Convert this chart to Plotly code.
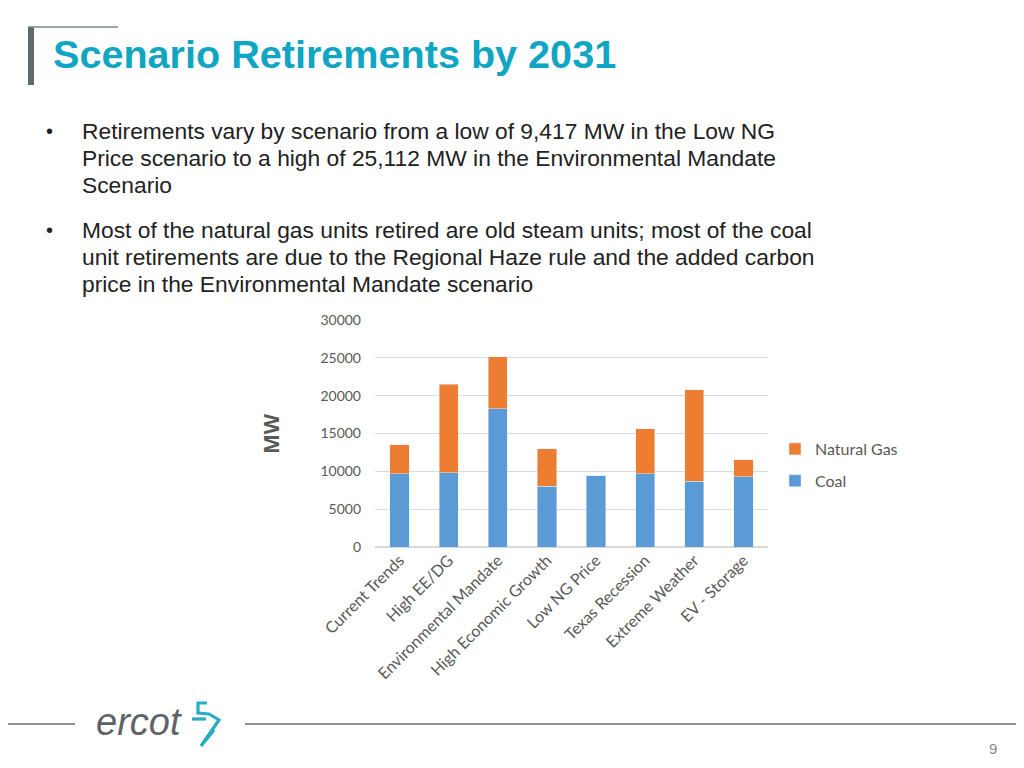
import plotly.graph_objects as go

W, H = 1024, 768

scenarios = ["Current Trends", "High EE/DG", "Environmental Mandate", "High Economic Growth",
             "Low NG Price", "Texas Recession", "Extreme Weather", "EV - Storage"]
coal_mw = [9700, 9800, 18300, 8000, 9417, 9700, 8700, 9300]
natural_gas_mw = [3800, 11700, 6812, 5000, 0, 5900, 12100, 2200]
y_ticks = [0, 5000, 10000, 15000, 20000, 25000, 30000]

title_text = "Scenario Retirements by 2031"
bullet_lines = [
    ("Retirements vary by scenario from a low of 9,417 MW in the Low NG", True),
    ("Price scenario to a high of 25,112 MW in the Environmental Mandate", False),
    ("Scenario", False),
    ("Most of the natural gas units retired are old steam units; most of the coal", True),
    ("unit retirements are due to the Regional Haze rule and the added carbon", False),
    ("price in the Environmental Mandate scenario", False),
]
bullet_y = [131, 158, 185, 230, 257, 284]


def px(x):
    return x / W


def py(y):
    return 1 - y / H


fig = go.Figure()
fig.add_trace(go.Bar(x=scenarios, y=coal_mw, name="Coal", marker_color="#5B9BD5",
                     legendgroup="coal", legendrank=2))
fig.add_trace(go.Bar(x=scenarios, y=natural_gas_mw, name="Natural Gas", marker_color="#ED7D31",
                     legendgroup="ng", legendrank=1))

annotations = []
annotations.append(dict(x=px(51), y=py(54), xref="paper", yref="paper", text="<b>" + title_text + "</b>",
                        showarrow=False, xanchor="left", yanchor="middle",
                        font=dict(family="Liberation Sans", size=39.6, color="#10A5C2")))
for (txt, has_bullet), yy in zip(bullet_lines, bullet_y):
    if has_bullet:
        annotations.append(dict(x=px(44), y=py(yy), xref="paper", yref="paper", text="•",
                                showarrow=False, xanchor="left", yanchor="middle",
                                font=dict(family="Liberation Sans", size=20, color="#222222")))
    annotations.append(dict(x=px(80), y=py(yy), xref="paper", yref="paper", text=txt,
                            showarrow=False, xanchor="left", yanchor="middle",
                            font=dict(family="Liberation Sans", size=22.8, color="#222222")))

annotations.append(dict(x=px(271), y=py(434), xref="paper", yref="paper", text="<b>MW</b>",
                        showarrow=False, textangle=-90, xanchor="center", yanchor="middle",
                        font=dict(family="Open Sans", size=21, color="#595959")))
annotations.append(dict(x=px(139), y=py(722), xref="paper", yref="paper", text="<i>ercot</i>",
                        showarrow=False, xanchor="center", yanchor="middle",
                        font=dict(family="Liberation Sans Narrow, Liberation Sans", size=38,
                                  color="#5F6369")))
annotations.append(dict(x=px(993), y=py(748), xref="paper", yref="paper", text="9",
                        showarrow=False, xanchor="center", yanchor="middle",
                        font=dict(family="Liberation Sans", size=15, color="#8a8a8a")))

shapes = [
    dict(type="rect", xref="paper", yref="paper", x0=px(28), x1=px(34), y0=py(85), y1=py(27),
         fillcolor="#5F6A6E", line=dict(width=0)),
    dict(type="line", xref="paper", yref="paper", x0=px(28), x1=px(118), y0=py(27), y1=py(27),
         line=dict(color="#7d8588", width=1.5)),
    dict(type="line", xref="paper", yref="paper", x0=px(8), x1=px(75), y0=py(724), y1=py(724),
         line=dict(color="#6b6b6b", width=1.3)),
    dict(type="line", xref="paper", yref="paper", x0=px(245), x1=px(1016), y0=py(724), y1=py(724),
         line=dict(color="#6b6b6b", width=1.3)),
]
# ercot logo mark (teal zigzag)
logo_pts = [(207, 703), (198, 703), (198, 713), (209, 714), (219, 720), (201, 746), (214, 730)]
path = "M " + " L ".join(f"{px(x)},{py(y)}" for x, y in logo_pts)
shapes.append(dict(type="path", xref="paper", yref="paper", path=path,
                   line=dict(color="#2AABC2", width=3.2)))
logo_pts2 = [(192, 719), (206, 719)]
path2 = "M " + " L ".join(f"{px(x)},{py(y)}" for x, y in logo_pts2)
shapes.append(dict(type="path", xref="paper", yref="paper", path=path2,
                   line=dict(color="#2AABC2", width=3.2)))

fig.update_layout(
    width=W, height=H,
    margin=dict(l=0, r=0, t=0, b=0, autoexpand=False),
    paper_bgcolor="white", plot_bgcolor="white",
    barmode="stack", bargap=0.61,
    xaxis=dict(domain=[px(375), px(768)], tickangle=-45, showgrid=False, showline=False,
               ticks="", automargin=False,
               tickfont=dict(family="Lato", size=16, color="#595959")),
    yaxis=dict(domain=[py(547), py(320)], range=[0, 30000], tickvals=y_ticks,
               ticktext=[str(v) for v in y_ticks], showgrid=True, gridcolor="#D9D9D9",
               gridwidth=1, zeroline=True, zerolinecolor="#D9D9D9", showline=False, ticks="",
               ticklabelstandoff=13, automargin=False,
               tickfont=dict(family="Lato", size=14, color="#595959")),
    legend=dict(x=px(775), y=py(432), xanchor="left", yanchor="top",
                traceorder="grouped",
                tracegroupgap=8, font=dict(family="Lato", size=16, color="#595959"),
                bgcolor="rgba(0,0,0,0)"),
    annotations=annotations, shapes=shapes,
    showlegend=True,
)

fig.write_html("out.html", config={"displayModeBar": False},
               post_script="document.body.style.margin='0px';")
